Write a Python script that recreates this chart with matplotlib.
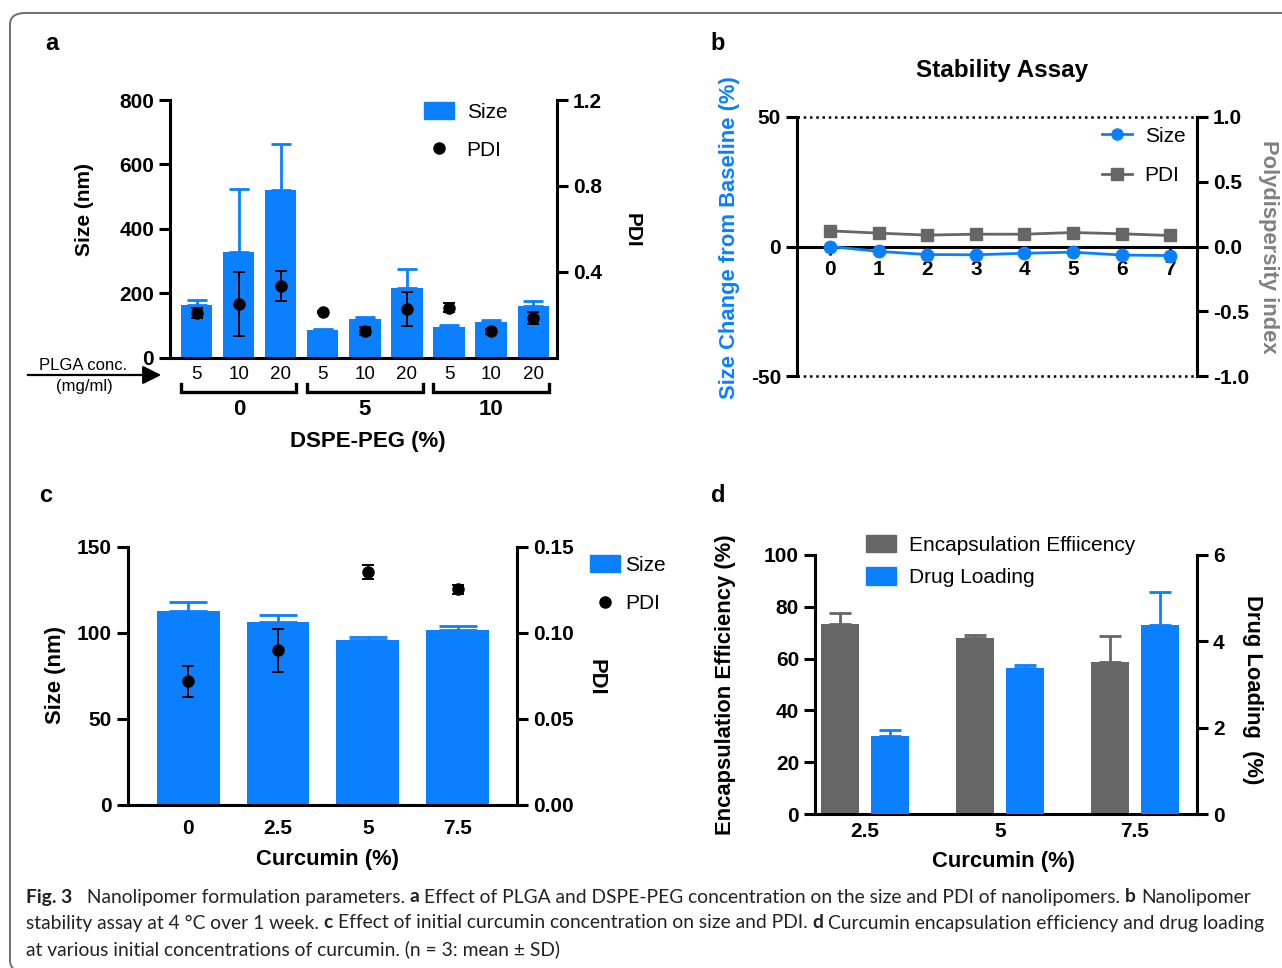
import matplotlib.pyplot as plt
import matplotlib.patches as patches
from matplotlib.lines import Line2D
import numpy as np

plt.rcParams['font.family'] = ['Liberation Sans', 'DejaVu Sans']

BLUE = '#0A80FF'
GRAY = '#666666'

# panel a: size / PDI vs PLGA conc. and DSPE-PEG
plga_labels = ['5', '10', '20', '5', '10', '20', '5', '10', '20']
peg_groups = ['0', '5', '10']
size_a = [165, 330, 520, 87, 120, 218, 95, 111, 162]
size_a_sd = [15, 195, 145, 3, 8, 57, 6, 7, 14]
pdi_a = [0.210, 0.250, 0.335, 0.214, 0.124, 0.229, 0.234, 0.124, 0.187]
pdi_a_sd = [0.022, 0.149, 0.068, 0.006, 0.018, 0.078, 0.020, 0.013, 0.027]

# panel b: stability assay
days = [0, 1, 2, 3, 4, 5, 6, 7]
size_change = [0, -1.9, -3.1, -3.2, -2.6, -2.2, -3.3, -3.5]
pdi_b = [0.121, 0.103, 0.088, 0.095, 0.095, 0.108, 0.098, 0.085]

# panel c: curcumin vs size / PDI
curcumin_c = ['0', '2.5', '5', '7.5']
size_c = [113, 106.5, 96, 101.5]
size_c_sd = [5, 3.7, 1.5, 2.3]
pdi_c = [0.072, 0.090, 0.1356, 0.1254]
pdi_c_sd = [0.009, 0.0125, 0.004, 0.0025]

# panel d: encapsulation efficiency / drug loading
curcumin_d = ['2.5', '5', '7.5']
ee = [73.5, 68, 58.5]
ee_sd = [4.2, 1.1, 10.2]
dl = [1.81, 3.38, 4.38]
dl_sd = [0.13, 0.07, 0.77]

W, H = 1282, 968
LW = 2.2
TICK = 15
LAB = 15.8


def box(x0, y0, x1, y1):
    return [x0 / W, 1 - y1 / H, (x1 - x0) / W, (y1 - y0) / H]


def fx(x):
    return x / W


def fy(y):
    return 1 - y / H


def ftext(x, y, s, **kw):
    kw.setdefault('ha', 'center')
    kw.setdefault('va', 'center')
    return fig.text(fx(x), fy(y), s, **kw)


def style(ax, left=True, right=False):
    for name, sp in ax.spines.items():
        sp.set_linewidth(LW)
    ax.spines['top'].set_visible(False)
    ax.spines['left'].set_visible(left)
    ax.spines['right'].set_visible(right)
    ax.tick_params(width=LW, length=8, labelsize=TICK)


def bold_ticks(ax, ticks, fmt='%g', axis='y'):
    labels = [fmt % t for t in ticks]
    if axis == 'y':
        ax.set_yticks(ticks, labels, fontweight='bold', fontsize=TICK)
    else:
        ax.set_xticks(ticks, labels, fontweight='bold', fontsize=TICK)


def legend_at(handles, labels, x, y, **kw):
    # x, y = top-left corner of the first handle, in pixels
    kw.setdefault('handlelength', 1.45)
    kw.setdefault('handleheight', 0.9)
    kw.setdefault('handletextpad', 0.6)
    kw.setdefault('labelspacing', 0.9)
    return fig.legend(handles, labels, loc='upper left', bbox_to_anchor=(fx(x), fy(y)),
                      frameon=False, fontsize=15, borderpad=0, borderaxespad=0, **kw)


fig = plt.figure(figsize=(W / 100, H / 100), dpi=100)

# outer frame
frame = patches.FancyBboxPatch((fx(10), fy(972)), fx(1300) - fx(10), fy(13) - fy(972),
                               boxstyle='round,pad=0,rounding_size=0.012',
                               transform=fig.transFigure, fill=False,
                               edgecolor='#6e6e6e', lw=1.4, clip_on=False)
fig.add_artist(frame)

# ---------------- panel a ----------------
axa = fig.add_axes(box(170, 100, 557, 358))
xa = np.arange(len(size_a))
axa.bar(xa, size_a, width=0.74, color=BLUE, zorder=2)
axa.errorbar(xa, size_a, yerr=[np.zeros(len(size_a)), size_a_sd], fmt='none',
             ecolor=BLUE, elinewidth=2, capsize=7, capthick=2, zorder=1)
axa.set_xlim(-0.64, 8.57)
axa.set_ylim(0, 800)
style(axa)
bold_ticks(axa, [0, 200, 400, 600, 800])
axa.set_xticks(xa, plga_labels, fontsize=13.5)
axa.tick_params(axis='x', length=0, pad=6)

ta = axa.twinx()
ta.errorbar(xa, pdi_a, yerr=pdi_a_sd, fmt='o', color='black', ms=8,
            ecolor='black', elinewidth=1.4, capsize=4.5, capthick=1.4)
ta.set_ylim(0, 1.2)
style(ta, left=False, right=True)
ta.spines['bottom'].set_visible(False)
bold_ticks(ta, [0.4, 0.8, 1.2], '%.1f')

# group brackets under the PLGA ticks
trans = axa.get_xaxis_transform()
for i, g in enumerate(peg_groups):
    x0, x1 = 3 * i - 0.37, 3 * i + 2.37
    axa.plot([x0, x0, x1, x1], [-0.1, -0.13, -0.13, -0.1], color='black',
             lw=2.4, transform=trans, clip_on=False, solid_joinstyle='miter')
    axa.text(3 * i + 1, -0.2, g, transform=trans, ha='center', va='center',
             fontsize=16, fontweight='bold')

ftext(85, 210, 'Size (nm)', rotation=90, fontsize=15, fontweight='bold')
ftext(632, 230, 'PDI', rotation=270, fontsize=15, fontweight='bold')
ftext(368, 441, 'DSPE-PEG (%)', fontsize=16, fontweight='bold')
ftext(83, 366, 'PLGA conc.', fontsize=12)
ftext(84, 387, '(mg/ml)', fontsize=12)
arrow = patches.FancyArrowPatch((fx(25), fy(375)), (fx(164), fy(375)),
                                transform=fig.transFigure, arrowstyle='-|>',
                                mutation_scale=28, lw=1.6, color='black')
fig.add_artist(arrow)

handles_a = [patches.Patch(color=BLUE),
             Line2D([], [], marker='o', ls='none', color='black', ms=8)]
legend_at(handles_a, ['Size', 'PDI'], 424, 102)

# ---------------- panel b ----------------
axb = fig.add_axes(box(797, 117, 1197, 376))
axb.plot(days, size_change, '-o', color=BLUE, lw=2, ms=9, zorder=4)
axb.set_xlim(-0.68, 7.55)
axb.set_ylim(-50, 50)
style(axb)
axb.spines['bottom'].set_position(('data', 0))
axb.spines['bottom'].set_zorder(3)
bold_ticks(axb, [-50, 0, 50])
bold_ticks(axb, days, axis='x')
axb.tick_params(axis='x', length=6, pad=4)
for yy in (50, -50):
    axb.axhline(yy, ls=(0, (1.0, 1.5)), color='black', lw=1.8, clip_on=False)

tb = axb.twinx()
tb.plot(days, pdi_b, '-s', color=GRAY, lw=2, ms=9)
tb.set_ylim(-1, 1)
style(tb, left=False, right=True)
tb.spines['bottom'].set_visible(False)
bold_ticks(tb, [-1.0, -0.5, 0.0, 0.5, 1.0], '%.1f')

ftext(1002, 70, 'Stability Assay', fontsize=17.5, fontweight='bold')
ftext(730, 238, 'Size Change from Baseline (%)', rotation=90, fontsize=LAB,
      fontweight='bold', color=BLUE)
ftext(1268, 247, 'Polydispersity index', rotation=270, fontsize=LAB,
      fontweight='bold', color='#808080')
handles_b = [Line2D([], [], marker='o', color=BLUE, lw=2, ms=8),
             Line2D([], [], marker='s', color=GRAY, lw=2, ms=8)]
legend_at(handles_b, ['Size', 'PDI'], 1102, 126, labelspacing=0.95)

# ---------------- panel c ----------------
axc = fig.add_axes(box(128, 547, 517, 805))
xc = np.arange(len(size_c))
axc.bar(xc, size_c, width=0.7, color=BLUE, zorder=2)
axc.errorbar(xc, size_c, yerr=[np.zeros(len(size_c)), size_c_sd], fmt='none',
             ecolor=BLUE, elinewidth=2, capsize=14, capthick=2, zorder=1)
axc.set_xlim(-0.67, 3.66)
axc.set_ylim(0, 150)
style(axc)
bold_ticks(axc, [0, 50, 100, 150])
axc.set_xticks(xc, curcumin_c, fontweight='bold', fontsize=TICK)
axc.tick_params(axis='x', length=0, pad=10)

tc = axc.twinx()
tc.errorbar(xc, pdi_c, yerr=pdi_c_sd, fmt='o', color='black', ms=8,
            ecolor='black', elinewidth=1.4, capsize=4.5, capthick=1.4)
tc.set_ylim(0, 0.15)
style(tc, left=False, right=True)
tc.spines['bottom'].set_visible(False)
bold_ticks(tc, [0.0, 0.05, 0.10, 0.15], '%.2f')

ftext(55, 675, 'Size (nm)', rotation=90, fontsize=LAB, fontweight='bold')
ftext(596, 677, 'PDI', rotation=270, fontsize=LAB, fontweight='bold')
ftext(327, 859, 'Curcumin (%)', fontsize=LAB, fontweight='bold')
legend_at(handles_a, ['Size', 'PDI'], 590, 555, handletextpad=0.25)

# ---------------- panel d ----------------
axd = fig.add_axes(box(815, 555, 1197, 814))
xd = np.arange(len(ee))
axd.bar(xd - 0.185, ee, width=0.28, color=GRAY, zorder=2)
axd.errorbar(xd - 0.185, ee, yerr=[np.zeros(len(ee)), ee_sd], fmt='none',
             ecolor=GRAY, elinewidth=2, capsize=8, capthick=2, zorder=1)
axd.set_xlim(-0.37, 2.46)
axd.set_ylim(0, 100)
style(axd)
bold_ticks(axd, [0, 20, 40, 60, 80, 100])
axd.set_xticks(xd, curcumin_d, fontweight='bold', fontsize=TICK)
axd.tick_params(axis='x', length=0, pad=6)

td = axd.twinx()
td.bar(xd + 0.185, dl, width=0.28, color=BLUE, zorder=2)
td.errorbar(xd + 0.185, dl, yerr=[np.zeros(len(dl)), dl_sd], fmt='none',
            ecolor=BLUE, elinewidth=2, capsize=8, capthick=2, zorder=1)
td.set_ylim(0, 6)
style(td, left=False, right=True)
td.spines['bottom'].set_visible(False)
bold_ticks(td, [0, 2, 4, 6])

ftext(725, 685, 'Encapsulation Efficiency (%)', rotation=90, fontsize=LAB, fontweight='bold')
ftext(1252, 690, 'Drug Loading  (%)', rotation=270, fontsize=LAB, fontweight='bold')
ftext(1004, 861, 'Curcumin (%)', fontsize=LAB, fontweight='bold')
handles_d = [patches.Patch(color=GRAY), patches.Patch(color=BLUE)]
legend_at(handles_d, ['Encapsulation Effiicency', 'Drug Loading'], 866, 535,
          labelspacing=0.6)

# panel letters
for lx, ly, s in [(52, 44, 'a'), (718, 44, 'b'), (46, 496, 'c'), (718, 496, 'd')]:
    ftext(lx, ly, s, fontsize=17, fontweight='bold')

# ---------------- caption ----------------
caption = [
    [('Fig. 3', True), (' Nanolipomer formulation parameters.', False), ('a', True),
     ('Effect of PLGA and DSPE-PEG concentration on the size and PDI of nanolipomers.', False),
     ('b', True), ('Nanolipomer', False)],
    [('stability assay at 4 °C over 1 week.', False), ('c', True),
     ('Effect of initial curcumin concentration on size and PDI.', False), ('d', True),
     ('Curcumin encapsulation efficiency and drug loading', False)],
    [('at various initial concentrations of curcumin. (n = 3: mean ± SD)', False)],
]
r = fig.canvas.get_renderer()


def draw_caption(size):
    font = dict(family=['Lato', 'DejaVu Sans'], fontsize=size, color='#222222')
    a = fig.text(0, 0, 'a a', **font)
    b = fig.text(0, 0, 'aa', **font)
    space = a.get_window_extent(r).width - b.get_window_extent(r).width
    a.remove()
    b.remove()
    drawn = []
    ends = []
    for row, line in enumerate(caption):
        x = 26
        y = 897 + 26 * row
        for k, (s, bold) in enumerate(line):
            t = fig.text(fx(x), fy(y), s, ha='left', va='center',
                         fontweight='bold' if bold else 'normal', **font)
            drawn.append(t)
            x += t.get_window_extent(r).width + space
            if k == 0 and bold:
                x += space
        ends.append(x - space)
    return drawn, ends


drawn, ends = draw_caption(12)
for t in drawn:
    t.remove()
draw_caption(12 * (1250 - 26) / (ends[0] - 26))

fig.savefig('out.png', dpi=100)
